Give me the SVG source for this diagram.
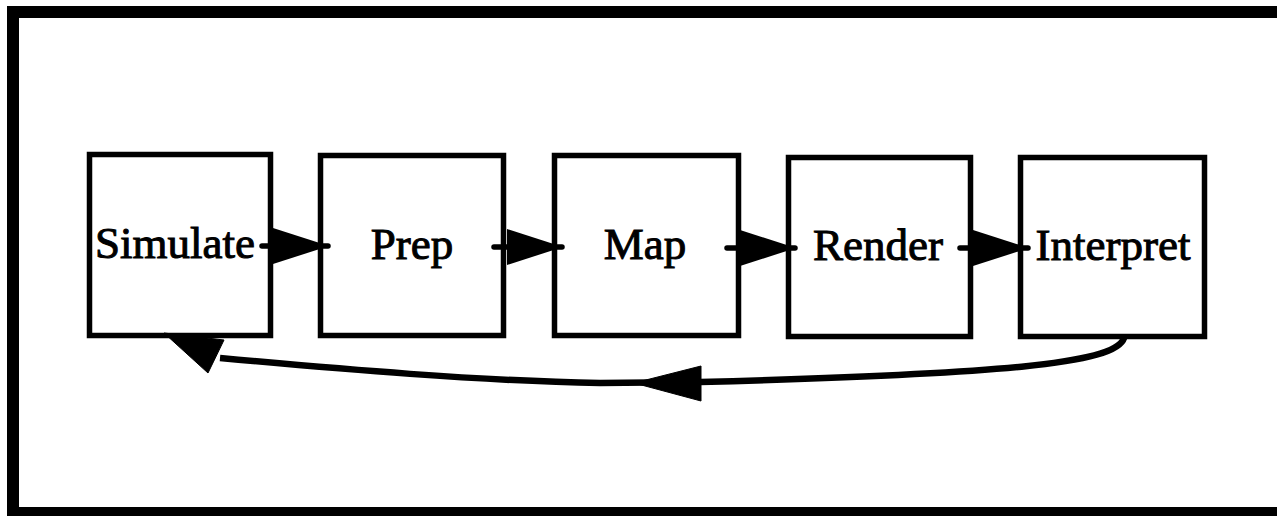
<svg xmlns="http://www.w3.org/2000/svg" width="1277" height="516" viewBox="0 0 1277 516">
  <style>
    .box { fill: #fff; stroke: #000; stroke-width: 5.5; }
    .lbl { font-family: "Liberation Serif", "Times New Roman", serif; font-size: 45px; fill: #000; stroke: #000; stroke-width: 1; text-anchor: middle; }
    .conn { fill: none; stroke: #000; stroke-width: 5.5; stroke-linecap: round; }
    .ret { fill: none; stroke: #000; stroke-width: 6.5; }
    .head { fill: #000; stroke: #000; stroke-width: 1; stroke-linejoin: round; }
  </style>
  <defs>
    <marker id="ah" markerUnits="userSpaceOnUse" markerWidth="56" markerHeight="36" refX="55" refY="18" orient="auto" viewBox="0 0 56 36">
      <path d="M0,0 L56,18 L0,36 Z" fill="#000"/>
    </marker>
  </defs>
  <rect width="1277" height="516" fill="#fff"/>
  <path id="frame" d="M1290 12 H13 V513 H1290" fill="none" stroke="#000" stroke-width="12"/>

  <g id="simulate">
    <rect class="box" x="89.5" y="154.5" width="181" height="181"/>
    <text class="lbl" x="175" y="258">Simulate</text>
  </g>
  <g id="prep">
    <rect class="box" x="320.5" y="155.5" width="183" height="180"/>
    <text class="lbl" x="412" y="259">Prep</text>
  </g>
  <g id="map">
    <rect class="box" x="554.5" y="155.5" width="184" height="180"/>
    <text class="lbl" x="645" y="259">Map</text>
  </g>
  <g id="render">
    <rect class="box" x="788.5" y="157.5" width="182" height="179"/>
    <text class="lbl" x="878" y="260">Render</text>
  </g>
  <g id="interpret">
    <rect class="box" x="1020.5" y="157.5" width="184" height="179"/>
    <text class="lbl" x="1113" y="260">Interpret</text>
  </g>

  <g id="connectors">
    <line class="conn" x1="262" y1="246" x2="328" y2="246" marker-end="url(#ah)"/>
    <line class="conn" x1="494" y1="247" x2="562" y2="247" marker-end="url(#ah)"/>
    <line class="conn" x1="727" y1="248" x2="795" y2="248" marker-end="url(#ah)"/>
    <line class="conn" x1="960" y1="248" x2="1028" y2="248" marker-end="url(#ah)"/>
    <path class="ret" d="M1124 338 C1116 364 1000 374 700 382 L600 383 C480 381 340 369 220 358"/>
    <polygon class="head" points="634,383 701,366 701,401"/>
    <polygon class="head" points="164,333 224,340 208,373"/>
  </g>
</svg>
